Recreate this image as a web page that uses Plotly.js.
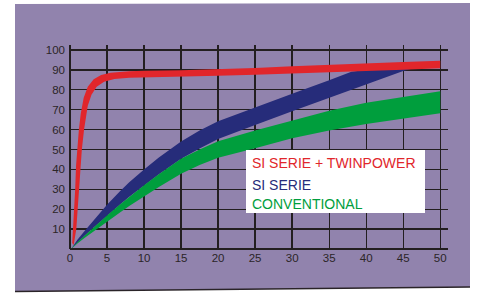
<!DOCTYPE html>
<html>
<head>
<meta charset="utf-8">
<script src="https://cdn.plot.ly/plotly-3.0.1.min.js"></script>
<style>html,body{margin:0;padding:0;background:#fff;}#chart{width:477px;height:293px;}</style>
</head>
<body>
<div id="chart"></div>
<script>
// Series names (legend text)
const seriesNames = ["SI SERIE + TWINPOWER", "SI SERIE", "CONVENTIONAL"];
const seriesColors = ["#e1262b", "#262c7a", "#009e3d"];

// X tick labels and Y tick labels
const xTicks = [0, 5, 10, 15, 20, 25, 30, 35, 40, 45, 50];
const yTicks = [10, 20, 30, 40, 50, 60, 70, 80, 90, 100];

// SI SERIE + TWINPOWER band (outer / upper-left edge, inner / lower-right edge)
const redOuterX = [0.3, 0.5, 0.7, 0.82, 0.95, 1.2, 1.45, 1.85, 2.4, 3.2, 4.2, 5.5, 8, 10, 15, 20, 25, 30, 35, 40, 45, 50];
const redOuterY = [3, 15, 30, 42, 50, 60, 68, 76, 81.5, 85.3, 87.4, 88.6, 89.3, 89.6, 89.8, 90.3, 91, 91.8, 92.6, 93.3, 94, 94.6];
const redInnerX = [0.5, 0.85, 1.15, 1.4, 1.6, 1.9, 2.1, 2.4, 2.9, 3.6, 4.6, 6, 8, 10, 15, 20, 25, 30, 35, 40, 45, 50];
const redInnerY = [2, 10, 25, 40, 50, 60, 66, 72, 77.5, 81.5, 84, 85.4, 86, 86.3, 86.5, 87, 87.5, 88, 88.7, 89.4, 90.1, 90.8];

// SI SERIE band
const blueUpperX = [0.2, 1, 2, 3, 4, 5, 6.75, 8, 10, 12, 15, 17.5, 20, 25, 30, 35, 38, 41, 44, 46.8];
const blueUpperY = [0.3, 4.6, 9.2, 13.7, 18, 22.2, 29, 33.5, 40, 46, 54, 59.5, 64.2, 71.3, 78, 84.8, 89, 90.5, 91, 91.2];
const blueLowerX = [0.2, 1, 2, 3, 4, 5, 6.75, 8, 10, 12, 15, 17.5, 20, 25, 30, 35, 40, 45, 46.8];
const blueLowerY = [0.2, 3.4, 6.8, 10.2, 13.5, 16.8, 22.3, 26.2, 32, 37.6, 45.3, 50.5, 55.3, 62.3, 69.2, 76, 82.8, 89.4, 91.2];

// CONVENTIONAL band
const greenUpperX = [0.2, 1, 2, 3, 4, 5, 6.75, 8, 10, 12, 15, 17.5, 20, 25, 30, 35, 40, 45, 50];
const greenUpperY = [0.2, 3.4, 6.8, 10.2, 13.5, 16.8, 22.3, 26.2, 32, 37.6, 45.3, 50, 54.2, 59.5, 64.5, 69.5, 73.5, 76.5, 79.2];
const greenLowerX = [0.2, 1, 2, 3, 4, 5, 6.75, 8, 10, 12, 15, 17.5, 20, 25, 30, 35, 40, 45, 50];
const greenLowerY = [0.1, 2.8, 5.6, 8.4, 11.1, 13.8, 18.4, 21.6, 26.5, 31.2, 37.8, 42.2, 45.8, 50.6, 55.6, 59.5, 62.8, 65.6, 68.2];

function band(ax, ay, bx, by, name, color) {
  return {
    type: 'scatter', mode: 'lines', name: name,
    x: ax.concat(bx.slice().reverse()),
    y: ay.concat(by.slice().reverse()),
    fill: 'toself', fillcolor: color,
    line: {width: 0, color: color},
    hoverinfo: 'skip', showlegend: false
  };
}

const traces = [
  band(blueUpperX, blueUpperY, blueLowerX, blueLowerY, seriesNames[1], seriesColors[1]),
  band(greenUpperX, greenUpperY, greenLowerX, greenLowerY, seriesNames[2], seriesColors[2]),
  band(redOuterX, redOuterY, redInnerX, redInnerY, seriesNames[0], seriesColors[0])
];

const L = 70, W = 378, T = 45, H = 204;
function px(p) { return (p - L) / W; }
function py(p) { return (T + H - p) / H; }

const gridCol = '#231f20';
const tickFont = {family: 'Liberation Sans, Arial, sans-serif', size: 11.5, color: '#2b2527'};

const layout = {
  width: 477, height: 293,
  margin: {l: L, r: 477 - L - W, t: T, b: 293 - T - H, pad: 0},
  paper_bgcolor: '#ffffff',
  plot_bgcolor: 'rgba(0,0,0,0)',
  showlegend: false,
  xaxis: {
    range: [0, 51.05], tickvals: xTicks, ticktext: xTicks.map(String),
    showgrid: true, gridcolor: gridCol, gridwidth: 1.3,
    zeroline: true, zerolinecolor: gridCol, zerolinewidth: 1.3,
    showline: false, ticks: '', tickfont: tickFont, ticklabelstandoff: 0,
    fixedrange: true
  },
  yaxis: {
    range: [0, 102.5], tickvals: yTicks, ticktext: yTicks.map(String),
    showgrid: true, gridcolor: gridCol, gridwidth: 1.3,
    zeroline: true, zerolinecolor: gridCol, zerolinewidth: 1.3,
    showline: false, ticks: '', tickfont: tickFont, ticklabelstandoff: 4,
    fixedrange: true
  },
  shapes: [
    {type: 'path', xref: 'paper', yref: 'paper', layer: 'below',
     path: 'M ' + px(15) + ' ' + py(4) + ' L ' + px(470) + ' ' + py(3) + ' L ' + px(470) + ' ' + py(287) + ' L ' + px(15) + ' ' + py(291.5) + ' Z',
     fillcolor: '#9183ad', line: {width: 0}},
    {type: 'line', xref: 'paper', yref: 'paper', layer: 'below',
     x0: px(15), y0: py(291.5), x1: px(470), y1: py(287),
     line: {color: '#2a2428', width: 1.5}},
    {type: 'rect', xref: 'paper', yref: 'paper', layer: 'above',
     x0: px(246), x1: px(425), y0: py(213), y1: py(150),
     fillcolor: '#ffffff', line: {width: 0}}
  ],
  annotations: seriesNames.map(function (n, i) {
    const ys = [163, 184.5, 204];
    return {
      xref: 'paper', yref: 'paper', x: px(250), y: py(ys[i]),
      xanchor: 'left', yanchor: 'middle', showarrow: false,
      text: n,
      font: {family: 'Liberation Sans, Arial, sans-serif', size: 14, color: seriesColors[i]}
    };
  })
};

Plotly.newPlot('chart', traces, layout, {staticPlot: true, displayModeBar: false});
</script>
</body>
</html>
